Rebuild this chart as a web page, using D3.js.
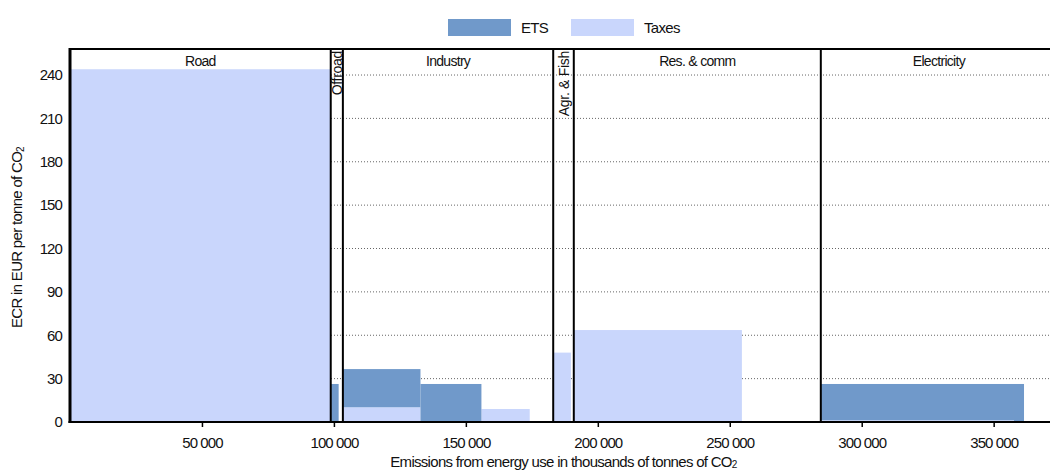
<!DOCTYPE html>
<html>
<head>
<meta charset="utf-8">
<script src="https://cdn.jsdelivr.net/npm/d3@7"></script>
<style>
  html, body { margin: 0; padding: 0; background: #fff; }
  svg { display: block; }
  text { font-family: 'Liberation Sans', Arial, sans-serif; fill: #111; }
</style>
</head>
<body>
<svg id="chart" width="1050" height="470"></svg>
<script>
// Sectors, laid side by side; width = total emissions (thousand tonnes CO2)
const sectorNames = ["Road", "Offroad", "Industry", "Agr. & Fish", "Res. & comm", "Electricity"];
const sectorEmissions = [98800, 4600, 79700, 7800, 93600, 89500];
const sectorVertical = [false, true, false, true, false, false];

// Priced emission blocks inside each sector (index into sectorNames)
const blockSector = [0, 1, 2, 2, 2, 3, 4, 5, 5];
const blockEmissions = [98800, 3000, 29400, 23100, 18300, 6700, 63700, 73200, 3800];
const blockTaxes = [244, 0, 10.2, 0, 9.0, 48, 63.6, 1.2, 0];
const blockETS = [0, 26.3, 26.4, 26.3, 0, 0, 0, 25.1, 26.3];

const yTicks = [0, 30, 60, 90, 120, 150, 180, 210, 240];
const xTicks = [50000, 100000, 150000, 200000, 250000, 300000, 350000];

const seriesNames = ["ETS", "Taxes"];
const seriesColors = ["#7099ca", "#c9d6fc"];

const FONT = "'Liberation Sans', Arial, sans-serif";
const svg = d3.select("#chart");
const pLeft = 70, pTop = 49, pBottom = 422, pRight = 1057;

const x = d3.scaleLinear().domain([0, d3.sum(sectorEmissions)]).range([pLeft, pRight]);
const y = d3.scaleLinear().domain([0, 258]).range([pBottom, pTop]);

// sector start positions
const sectorStart = [];
let acc = 0;
sectorEmissions.forEach(e => { sectorStart.push(acc); acc += e; });

// block start positions within sectors
const blocks = [];
const offsetBySector = sectorStart.slice();
blockSector.forEach((s, i) => {
  const x0 = offsetBySector[s];
  offsetBySector[s] += blockEmissions[i];
  blocks.push({ x0, x1: x0 + blockEmissions[i], taxes: blockTaxes[i], ets: blockETS[i] });
});

// gridlines
svg.append("g")
  .selectAll("line")
  .data(yTicks.filter(d => d > 0))
  .join("line")
  .attr("x1", pLeft).attr("x2", pRight)
  .attr("y1", d => y(d)).attr("y2", d => y(d))
  .attr("stroke", "#666").attr("stroke-width", 1)
  .attr("stroke-dasharray", "1,2");

// stacked blocks: taxes at the bottom, ETS above
const gBlocks = svg.append("g");
gBlocks.selectAll("rect.tax")
  .data(blocks.filter(b => b.taxes > 0))
  .join("rect").attr("class", "tax")
  .attr("x", b => x(b.x0)).attr("width", b => x(b.x1) - x(b.x0))
  .attr("y", b => y(b.taxes)).attr("height", b => y(0) - y(b.taxes))
  .attr("fill", seriesColors[1]);
gBlocks.selectAll("rect.ets")
  .data(blocks.filter(b => b.ets > 0))
  .join("rect").attr("class", "ets")
  .attr("x", b => x(b.x0)).attr("width", b => x(b.x1) - x(b.x0))
  .attr("y", b => y(b.taxes + b.ets)).attr("height", b => y(b.taxes) - y(b.taxes + b.ets))
  .attr("fill", seriesColors[0]);

// sector separators
svg.append("g")
  .selectAll("line")
  .data(sectorStart.slice(1))
  .join("line")
  .attr("x1", d => x(d)).attr("x2", d => x(d))
  .attr("y1", pTop).attr("y2", pBottom)
  .attr("stroke", "#000").attr("stroke-width", 2);

// sector labels
const gLab = svg.append("g");
sectorNames.forEach((name, i) => {
  const cx = x(sectorStart[i] + sectorEmissions[i] / 2);
  if (sectorVertical[i]) {
    gLab.append("text")
      .attr("transform", `translate(${cx},${pTop + 2}) rotate(-90)`)
      .attr("text-anchor", "end")
      .attr("dominant-baseline", "central")
      .attr("font-size", 14)
      .attr("letter-spacing", -0.3)
      .text(name);
  } else {
    gLab.append("text")
      .attr("x", cx).attr("y", pTop + 17)
      .attr("text-anchor", "middle")
      .attr("font-size", 14)
      .attr("letter-spacing", -0.7)
      .text(name);
  }
});

// frame: top line
svg.append("line")
  .attr("x1", pLeft).attr("x2", 1050).attr("y1", pTop).attr("y2", pTop)
  .attr("stroke", "#000").attr("stroke-width", 2);

// x axis
const xAxis = svg.append("g")
  .attr("transform", `translate(0,${pBottom})`)
  .call(d3.axisBottom(x).tickValues(xTicks).tickSize(5).tickSizeOuter(0)
    .tickFormat(d => d3.format(",")(d).replace(/,/g, " ")));
xAxis.select(".domain").remove();
xAxis.selectAll(".tick line").attr("stroke", "#000").attr("stroke-width", 1.5);
xAxis.selectAll(".tick text").attr("font-size", 15).attr("dy", "1.2em")
  .attr("letter-spacing", -0.9)
  .style("font-family", FONT).attr("fill", "#111");
svg.append("line")
  .attr("x1", pLeft - 1.5).attr("x2", 1050).attr("y1", pBottom).attr("y2", pBottom)
  .attr("stroke", "#000").attr("stroke-width", 2.2);

// y axis
const yAxis = svg.append("g")
  .attr("transform", `translate(${pLeft},0)`)
  .call(d3.axisLeft(y).tickValues(yTicks).tickSize(0).tickPadding(8));
yAxis.select(".domain").remove();
yAxis.selectAll(".tick text").attr("font-size", 15)
  .attr("letter-spacing", -0.9)
  .style("font-family", FONT).attr("fill", "#111");
svg.append("line")
  .attr("x1", pLeft).attr("x2", pLeft).attr("y1", pTop - 1).attr("y2", pBottom + 1)
  .attr("stroke", "#000").attr("stroke-width", 3);

// axis titles
const xt = svg.append("text")
  .attr("x", (pLeft + pRight) / 2).attr("y", 467)
  .attr("text-anchor", "middle").attr("font-size", 15)
  .attr("letter-spacing", -0.7);
xt.append("tspan").text("Emissions from energy use in thousands of tonnes of CO");
xt.append("tspan").attr("font-size", 10).attr("dy", 1).text("2");

const yt = svg.append("text")
  .attr("transform", `translate(22,${(pTop + pBottom) / 2 + 2}) rotate(-90)`)
  .attr("text-anchor", "middle").attr("font-size", 15)
  .attr("letter-spacing", -0.7);
yt.append("tspan").text("ECR in EUR per tonne of CO");
yt.append("tspan").attr("font-size", 10).attr("dy", 2).text("2");

// legend
const legend = svg.append("g");
const legX = [448, 571];
seriesNames.forEach((name, i) => {
  legend.append("rect")
    .attr("x", legX[i]).attr("y", 19).attr("width", 63).attr("height", 17)
    .attr("fill", seriesColors[i]);
  legend.append("text")
    .attr("x", legX[i] + 73).attr("y", 33)
    .attr("font-size", 15).attr("letter-spacing", -0.7).text(name);
});
</script>
</body>
</html>
